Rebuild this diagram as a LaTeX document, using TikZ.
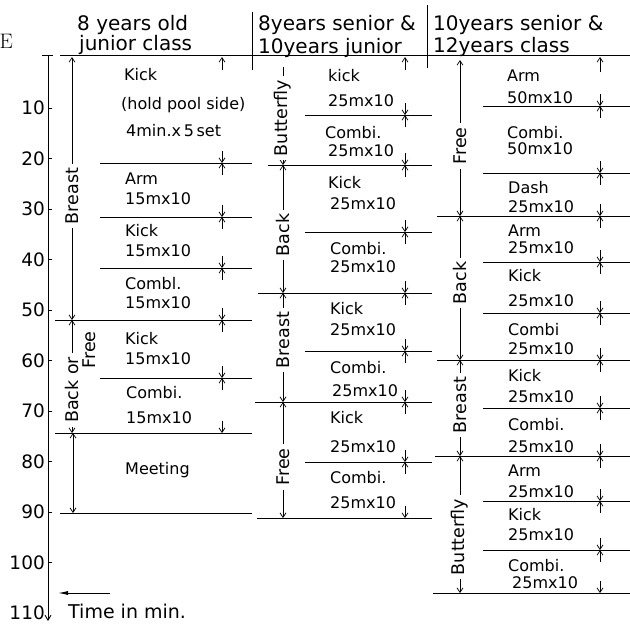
\documentclass[tikz,border=0pt]{standalone}
\usepackage{fontspec}
\newfontfamily\dv{DejaVu Sans}
\usetikzlibrary{arrows.meta}
\begin{document}
\begin{tikzpicture}[x=1pt,y=-1pt,
  rule/.style={line width=0.8pt},
  dim/.style={line width=0.7pt,-{Straight Barb[length=4.5pt,width=6pt]}},
  dimline/.style={line width=0.7pt},
  txt/.style={font=\dv\fontsize{16}{18}\selectfont, anchor=base west, inner sep=0pt},
  hdr/.style={font=\dv\fontsize{20}{22}\selectfont, anchor=base west, inner sep=0pt},
  lbl/.style={font=\dv\fontsize{17.5}{19}\selectfont, rotate=90, fill=white, inner xsep=4pt, inner ysep=1pt},
  ax/.style={font=\dv\fontsize{18.5}{20}\selectfont, anchor=east, inner sep=0pt},
]
\useasboundingbox (0,0) rectangle (630,625);
\newcommand\xmk[2]{\draw[dim] (#1,#2-12) -- (#1,#2); \draw[dim] (#1,#2+12) -- (#1,#2);}

% stray letter at the left edge
\node[anchor=base east, inner sep=0pt, font=\fontsize{21}{23}\selectfont] (edgeE) at (13,48) {E};

% headers
\node[hdr] (h1a) at (77,30) {8 years old};
\node[hdr] (h1b) at (79,50) {junior class};
\node[hdr] (h2a) at (258,30) {8years senior \&};
\node[hdr] (h2b) at (258,53) {10years junior};
\node[hdr] (h3a) at (433,30) {10years senior \&};
\node[hdr] (h3b) at (433,52) {12years class};
\draw[rule] (252,12) -- (252,70);
\draw[rule] (427,5) -- (427,68);
\draw[rule] (60,55) -- (630,55);

% time axis
\draw[line width=0.9pt,-{Straight Barb[length=5pt,width=6pt]}] (48,55) -- (48,621);
\draw[rule] (42,55) -- (53,55);
\foreach \t in {10,20,...,100} {\draw[line width=0.7pt] (48,57.5+5.05*\t) -- (52,57.5+5.05*\t);}
\foreach \t in {10,20,...,110} {\node[ax] (ax\t) at (45,57.5+5.05*\t) {\t};}
\draw[line width=0.9pt,-{Latex[length=10pt,width=4pt]}] (110,593) -- (58,593);
\node[anchor=base west, inner sep=0pt, font=\dv\fontsize{19}{21}\selectfont] (tim) at (68,618) {Time in min.};

% ---------- column 1 ----------
\foreach \y in {163,217,268,378} {\draw[rule] (100,\y) -- (252,\y);}
\draw[rule] (55,320) -- (252,320);
\draw[rule] (55,433) -- (252,433);
\draw[rule] (60,513) -- (252,513);
\draw[dim] (222,70) -- (222,57);
\foreach \y in {163,217,268,320,378} {\xmk{222}{\y}}
\draw[dim] (222,421) -- (222,433);
% left brackets
\draw[dim] (72,190) -- (72,57); \draw[dim] (72,190) -- (72,320);
\node[lbl] (c1br) at (72,196) {Breast};
\draw[dim] (72,380) -- (72,320); \draw[dim] (72,380) -- (72,433);
\node[lbl] (c1bk) at (72,390) {Back or};
\node[lbl] (c1fr) at (89,350) {Free};
\draw[dim] (73,475) -- (73,433); \draw[dim] (73,475) -- (73,513);
% texts
\node[txt] (a1) at (124,80) {Kick};
\node[txt] (a2) at (121,109) {(hold pool side)};
\node[txt] (a3) at (126,136) {4min.x\,5\,set};
\node[txt] (a4) at (125,184) {Arm};
\node[txt] (a5) at (125,204) {15mx10};
\node[txt] (a6) at (125,236) {Kick};
\node[txt] (a7) at (125,256) {15mx10};
\node[txt] (a8) at (125,289) {Combl.};
\node[txt] (a9) at (125,308) {15mx10};
\node[txt] (a10) at (125,344) {Kick};
\node[txt] (a11) at (125,364) {15mx10};
\node[txt] (a12) at (126,398) {Combi.};
\node[txt] (a13) at (126,423) {15mx10};
\node[txt] (a14) at (125,474) {Meeting};

% ---------- column 2 ----------
\foreach \y in {115,232,351,462} {\draw[rule] (305,\y) -- (432,\y);}
\draw[rule] (268,165) -- (432,165);
\draw[rule] (258,293) -- (432,293);
\draw[rule] (255,402) -- (432,402);
\draw[rule] (257,518) -- (432,518);
\draw[dim] (405,70) -- (405,57);
\foreach \y in {115,165,232,293,351,402,462} {\xmk{405}{\y}}
\draw[dim] (405,506) -- (405,518);
% left brackets
\draw[dimline] (283,67) -- (283,120); \draw[dim] (283,120) -- (283,165);
\node[lbl] (c2bf) at (283,118) {Butterfly};
\draw[dim] (283,230) -- (283,165); \draw[dim] (283,230) -- (283,293);
\node[lbl] (c2bk) at (283,235) {Back};
\draw[dim] (283,340) -- (283,293); \draw[dim] (283,340) -- (283,402);
\node[lbl] (c2br) at (283,340) {Breast};
\draw[dim] (283,467) -- (283,402); \draw[dim] (283,467) -- (283,518);
\node[lbl] (c2fr) at (283,467) {Free};
% texts
\node[txt] (b1) at (328,81) {kick};
\node[txt] (b2) at (328,106) {25mx10};
\node[txt] (b3) at (325,138) {Combi.};
\node[txt] (b4) at (328,156) {25mx10};
\node[txt] (b5) at (328,188) {Kick};
\node[txt] (b6) at (330,209) {25mx10};
\node[txt] (b7) at (330,254) {Combi.};
\node[txt] (b8) at (330,272) {25mx10};
\node[txt] (b9) at (330,314) {Kick};
\node[txt] (b10) at (330,335) {25mx10};
\node[txt] (b11) at (330,373) {Combi.};
\node[txt] (b12) at (332,396) {25mx10};
\node[txt] (b13) at (330,423) {Kick};
\node[txt] (b14) at (330,452) {25mx10};
\node[txt] (b15) at (330,483) {Combi.};
\node[txt] (b16) at (330,508) {25mx10};

% ---------- column 3 ----------
\foreach \y in {106,173,262,313,408,501,550} {\draw[rule] (483,\y) -- (630,\y);}
\draw[rule] (437,216) -- (630,216);
\draw[rule] (437,360) -- (630,360);
\draw[rule] (435,456) -- (630,456);
\draw[rule] (433,593) -- (630,593);
\draw[dim] (600,72) -- (600,57);
\foreach \y in {106,173,216,262,313,360,408,456,501,550} {\xmk{600}{\y}}
\draw[dim] (600,581) -- (600,593);
% left brackets
\draw[dim] (460,146) -- (460,60); \draw[dim] (460,146) -- (460,216);
\node[lbl] (c3fr) at (460,146) {Free};
\draw[dim] (460,283) -- (460,216); \draw[dim] (460,283) -- (460,360);
\node[lbl] (c3bk) at (460,283) {Back};
\draw[dim] (460,405) -- (460,360); \draw[dim] (460,405) -- (460,456);
\node[lbl] (c3br) at (460,405) {Breast};
\draw[dim] (460,537) -- (460,456); \draw[dim] (460,537) -- (460,593);
\node[lbl] (c3bf) at (460,537) {Butterfly};
% texts
\node[txt] (c1) at (507,81) {Arm};
\node[txt] (c2) at (507,103) {50mx10};
\node[txt] (c3) at (507,138) {Combi.};
\node[txt] (c4) at (507,154) {50mx10};
\node[txt] (c5) at (508,193) {Dash};
\node[txt] (c6) at (508,212) {25mx10};
\node[txt] (c7) at (508,236) {Arm};
\node[txt] (c8) at (508,253) {25mx10};
\node[txt] (c9) at (508,281) {Kick};
\node[txt] (c10) at (508,306) {25mx10};
\node[txt] (c11) at (508,335) {Combi};
\node[txt] (c12) at (508,354) {25mx10};
\node[txt] (c13) at (508,381) {Kick};
\node[txt] (c14) at (508,402) {25mx10};
\node[txt] (c15) at (508,430) {Combi.};
\node[txt] (c16) at (508,452) {25mx10};
\node[txt] (c17) at (508,476) {Arm};
\node[txt] (c18) at (508,497) {25mx10};
\node[txt] (c19) at (508,520) {Kick};
\node[txt] (c20) at (508,540) {25mx10};
\node[txt] (c21) at (508,571) {Combi.};
\node[txt] (c22) at (512,588) {25mx10};
\end{tikzpicture}
\end{document}
